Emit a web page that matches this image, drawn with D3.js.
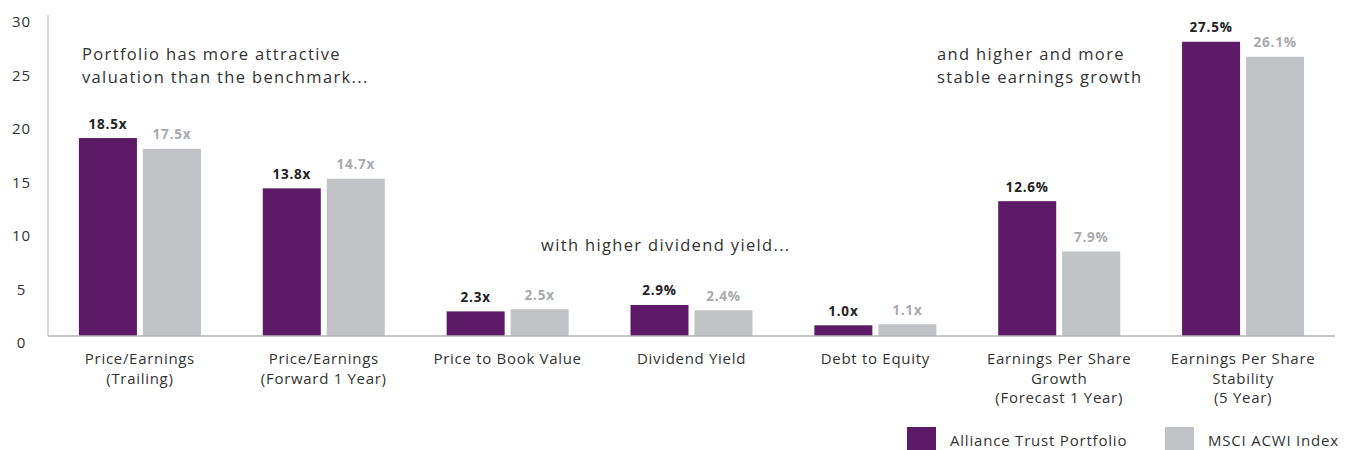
<!DOCTYPE html>
<html>
<head>
<meta charset="utf-8">
<script src="https://cdn.jsdelivr.net/npm/d3@7"></script>
<style>
  html, body { margin: 0; padding: 0; background: #fff; }
  svg { display: block; }
  text { font-family: "Open Sans", sans-serif; }
</style>
</head>
<body>
<svg id="chart" width="1349" height="450"></svg>
<script>
// Valuation and growth metrics: portfolio vs benchmark
const categories = [
  ["Price/Earnings", "(Trailing)"],
  ["Price/Earnings", "(Forward 1 Year)"],
  ["Price to Book Value"],
  ["Dividend Yield"],
  ["Debt to Equity"],
  ["Earnings Per Share", "Growth", "(Forecast 1 Year)"],
  ["Earnings Per Share", "Stability", "(5 Year)"]
];
const seriesNames = ["Alliance Trust Portfolio", "MSCI ACWI Index"];
const portfolioValues = [18.5, 13.8, 2.3, 2.9, 1.0, 12.6, 27.5];
const indexValues     = [17.5, 14.7, 2.5, 2.4, 1.1, 7.9, 26.1];
const valueSuffix     = ["x", "x", "x", "%", "x", "%", "%"];
const yTicks = [0, 5, 10, 15, 20, 25, 30];

const annotations = [
  { lines: ["Portfolio has more attractive", "valuation than the benchmark..."], x: 82, y: 60 },
  { lines: ["with higher dividend yield..."], x: 541, y: 251 },
  { lines: ["and higher and more", "stable earnings growth"], x: 937, y: 60 }
];

const colors = { "Alliance Trust Portfolio": "#5c1966", "MSCI ACWI Index": "#c1c2c6" };
const labelColors = { "Alliance Trust Portfolio": "#222222", "MSCI ACWI Index": "#a9aaad" };

const svg = d3.select("#chart");
const plotLeft = 48, plotRight = 1335, plotTop = 15, plotBottom = 336;

const catKeys = categories.map((c, i) => "c" + i);
const x0 = d3.scaleBand().domain(catKeys).range([plotLeft, plotRight])
  .paddingInner(0.3364).paddingOuter(0.1682);
const x1 = d3.scaleBand().domain(seriesNames).range([0, x0.bandwidth()])
  .paddingInner(0.09375);
const y = d3.scaleLinear().domain([0, 30]).range([plotBottom, plotTop]);

// Y axis labels
const yAxis = svg.append("g").attr("transform", `translate(${plotLeft},0)`)
  .call(d3.axisLeft(y).tickValues(yTicks).tickSize(0));
yAxis.select(".domain").remove();
yAxis.selectAll("text")
  .attr("x", -26.5).attr("y", 11.5).attr("dy", 0)
  .attr("text-anchor", "middle")
  .style("font-family", "'Open Sans', sans-serif")
  .style("font-size", "15px").style("letter-spacing", "1px")
  .attr("fill", "#333");

// vertical axis line
svg.append("line")
  .attr("x1", plotLeft).attr("x2", plotLeft).attr("y1", y(30)).attr("y2", y(0))
  .attr("stroke", "#cfcfcf").attr("stroke-width", 1.5);

// Bars
const rows = catKeys.map((k, i) => ({
  key: k, i,
  values: [
    { s: seriesNames[0], v: portfolioValues[i] },
    { s: seriesNames[1], v: indexValues[i] }
  ]
}));

const groups = svg.append("g").selectAll("g").data(rows).join("g")
  .attr("transform", d => `translate(${x0(d.key)},0)`);

groups.selectAll("rect").data(d => d.values).join("rect")
  .attr("x", d => x1(d.s)).attr("width", x1.bandwidth())
  .attr("y", d => y(d.v)).attr("height", d => y(0) - y(d.v))
  .attr("fill", d => colors[d.s]);

groups.each(function(d) {
  d3.select(this).selectAll("text.val").data(d.values).join("text")
    .attr("class", "val")
    .attr("x", v => x1(v.s) + x1.bandwidth() / 2)
    .attr("y", v => y(v.v) - 9.5)
    .attr("text-anchor", "middle")
    .style("font-family", "'Open Sans', sans-serif")
    .style("font-weight", "700").style("font-size", "13.5px")
    .style("letter-spacing", "0.8px")
    .attr("fill", v => labelColors[v.s])
    .text(v => v.v.toFixed(1) + valueSuffix[d.i]);
});

// Baseline
svg.append("line")
  .attr("x1", plotLeft).attr("x2", plotRight).attr("y1", y(0)).attr("y2", y(0))
  .attr("stroke", "#b3b3b3").attr("stroke-width", 1.5);

// Category labels
svg.append("g").selectAll("text").data(rows).join("text")
  .attr("text-anchor", "middle")
  .style("font-family", "'Open Sans', sans-serif").style("font-size", "15px")
  .style("letter-spacing", "0.7px")
  .attr("fill", "#333")
  .each(function(d) {
    const t = d3.select(this);
    categories[d.i].forEach((line, j) => {
      t.append("tspan")
        .attr("x", x0(d.key) + x0.bandwidth() / 2)
        .attr("y", 364 + j * 19.5)
        .text(line);
    });
  });

// Annotations, one text element per line
const annoLines = annotations.flatMap(a =>
  a.lines.map((line, j) => ({ text: line, x: a.x, y: a.y + j * 22.5 })));
svg.append("g").selectAll("text").data(annoLines).join("text")
  .attr("x", d => d.x).attr("y", d => d.y)
  .style("font-size", "16.5px").style("letter-spacing", "1.35px")
  .attr("fill", "#333")
  .text(d => d.text);

// Legend
const legendItems = [
  { s: seriesNames[0], x: 907 },
  { s: seriesNames[1], x: 1165 }
];
const lg = svg.append("g").selectAll("g").data(legendItems).join("g")
  .attr("transform", d => `translate(${d.x},427)`);
lg.append("rect").attr("width", 29).attr("height", 24).attr("fill", d => colors[d.s]);
lg.append("text").attr("x", 43).attr("y", 19)
  .style("font-family", "'Open Sans', sans-serif").style("font-size", "15px")
  .style("letter-spacing", "0.8px")
  .attr("fill", "#333").text(d => d.s);
</script>
</body>
</html>
